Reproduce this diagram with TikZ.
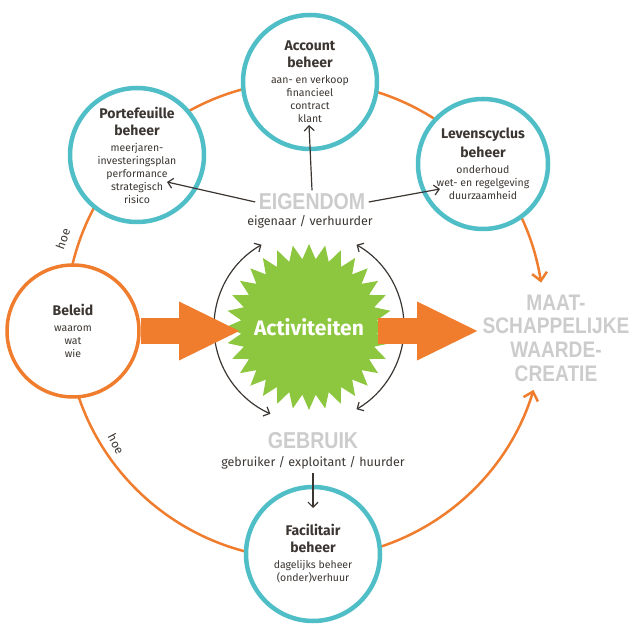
\documentclass[tikz,border=0pt]{standalone}
\usepackage{fontspec}
\setmainfont{Fira Sans}
\newfontfamily\stencil[FakeStretch=0.85]{Liberation Sans}
\usepackage{xcolor}
\usepackage{tikz}
\usetikzlibrary{shapes.geometric, arrows.meta, positioning}

\definecolor{beheerblauw}{HTML}{4FBEC7}
\definecolor{oranje}{HTML}{EF7D2D}
\definecolor{groen}{HTML}{8DC63F}
\definecolor{grijs}{HTML}{CCCCCC}
\definecolor{tekst}{HTML}{3B3632}

\newcommand{\kop}[1]{{\bfseries\fontsize{14}{17}\selectfont #1}}

\begin{document}
\begin{tikzpicture}[x=1pt, y=1pt,
    beheer/.style={circle, draw=beheerblauw, line width=4.5pt, fill=white, minimum size=134pt, inner sep=0pt, align=center, text=tekst, font=\fontsize{10.5}{13}\selectfont},
    beleidcirkel/.style={beheer, draw=oranje, line width=3.5pt, minimum size=132pt},
    link/.style={draw=tekst, line width=1.2pt, -{Straight Barb[length=5pt,width=10pt]}},
    cirkelpijl/.style={draw=tekst, line width=1.2pt, {Straight Barb[length=5pt,width=10pt]}-{Straight Barb[length=5pt,width=10pt]}},
    grijstekst/.style={text=grijs, font=\stencil\bfseries\fontsize{23}{24}\selectfont},
    subtekst/.style={text=tekst, font=\fontsize{12.5}{14}\selectfont},
    hoetekst/.style={text=tekst, font=\fontsize{12}{14}\selectfont},
    pijl/.style={draw=oranje, line width=26pt, -{Triangle[length=62pt,width=54pt]}},
    ring/.style={draw=oranje, line width=2.5pt}
]
\useasboundingbox (0,0) rectangle (635,640);

% vaste punten
\coordinate (ringc) at (305,320);
\coordinate (lefttip) at (241,309);
\coordinate (rstart) at (378,309);
\coordinate (maattip) at (479,309);
\coordinate (portefIn) at (167,458);
\coordinate (levenIn) at (440,451);
\coordinate (accountIn) at (309,515);
\coordinate (facIn) at (313,132);

% grote ring
\draw[ring, {Straight Barb[length=8pt,width=15pt]}-{Straight Barb[length=8pt,width=15pt]}]
    (ringc) ++(9:239) arc[start angle=9, end angle=343, radius=239];

% Activiteiten
\node[star, star points=32, star point ratio=1.22, minimum size=166pt, inner sep=0pt, fill=groen] (star) at (309,313) {};
\draw[cirkelpijl] (star.center) ++(120:95) arc[start angle=120, end angle=246, radius=95];
\draw[cirkelpijl] (star.center) ++(60:95) arc[start angle=60, end angle=-60, radius=95];

% beheer cirkels
\node[beheer] (account) at (310,558) {\kop{Account}\\[4pt]\kop{beheer}\\[3pt]aan- en verkoop\\financieel\\contract\\klant};
\node[beheer] (portef) at (137,485) {\kop{Portefeuille}\\[4pt]\kop{beheer}\\[3pt]meerjaren-\\investeringsplan\\performance\\strategisch\\risico};
\node[beheer, minimum size=130pt] (leven) at (483,476) {\kop{Levenscyclus}\\[4pt]\kop{beheer}\\[3pt]onderhoud\\wet- en regelgeving\\duurzaamheid};
\node[beheer] (facil) at (313,86) {\kop{Facilitair}\\[4pt]\kop{beheer}\\[3pt]dagelijks beheer\\(onder)verhuur};
\node[beleidcirkel] (beleid) at (73,309) {\kop{Beleid}\\[3pt]waarom\\wat\\wie};

% oranje pijlen
\draw[pijl] (beleid) -- (lefttip);
\draw[pijl] (rstart) -- (maattip);
\node[text=white, font=\bfseries\fontsize{21}{24}\selectfont] (act) at (star.center) {Activiteiten};

% eigendom en gebruik
\node[grijstekst] (eigendom) at (312,438) {EIGENDOM};
\node[subtekst] (eigsub) at (310,418) {eigenaar / verhuurder};
\node[grijstekst] (gebruik) at (313,199) {GEBRUIK};
\node[subtekst] (gebsub) at (313,177) {gebruiker / exploitant / huurder};
\node[grijstekst, align=center, font=\stencil\bfseries\fontsize{22.5}{23.7}\selectfont] (maat) at (556,302) {MAAT-\\SCHAPPELIJKE\\WAARDE-\\CREATIE};

\draw[link] (eigendom.north) -- (accountIn);
\draw[link] (eigendom.west) -- (portefIn);
\draw[link] (eigendom.east) -- (levenIn);
\draw[link] (gebsub.south) -- (facIn);

% hoe
\node[hoetekst, rotate=70] (hoeboven) at (63,401) {hoe};
\node[hoetekst, rotate=-62] (hoeonder) at (116,196) {hoe};

\end{tikzpicture}
\end{document}
